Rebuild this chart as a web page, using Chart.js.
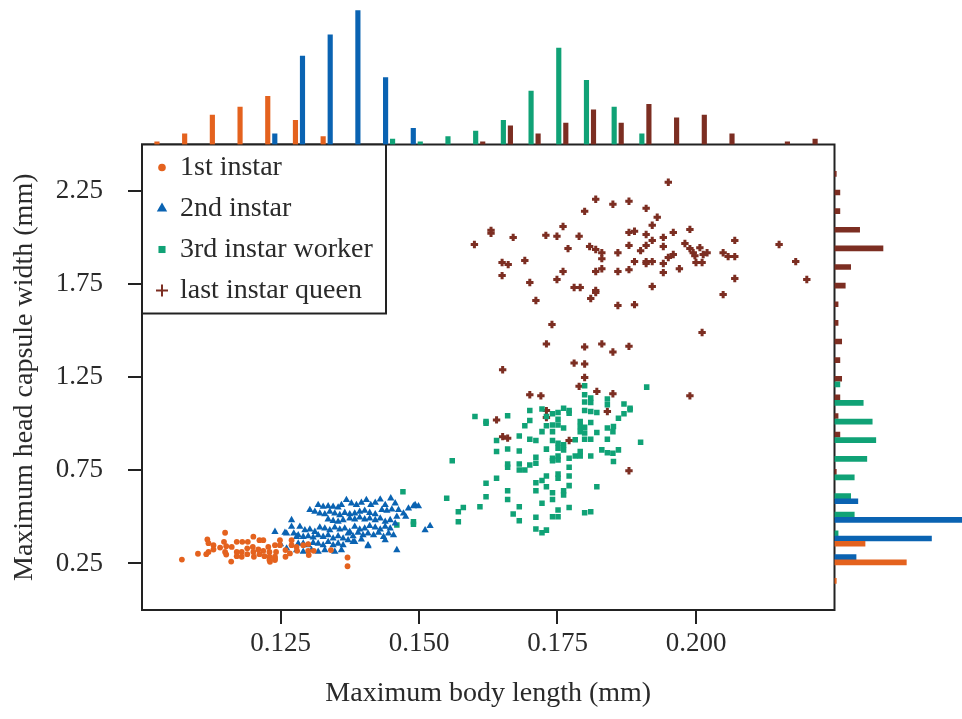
<!DOCTYPE html>
<html>
<head>
<meta charset="utf-8">
<script src="https://cdn.jsdelivr.net/npm/chart.js@4.4.1/dist/chart.umd.min.js"></script>
<style>
  html, body { margin: 0; padding: 0; background: #fff; }
  #wrap { position: relative; width: 962px; height: 719px; }
  #wrap canvas { position: absolute; left: 0; top: 0; }
</style>
</head>
<body>
<div id="wrap">
  <canvas id="scatter" width="962" height="719"></canvas>
  <canvas id="histTop" width="962" height="719"></canvas>
  <canvas id="histRight" width="962" height="719"></canvas>
</div>
<script>
const seriesNames = ['1st instar', '2nd instar', '3rd instar worker', 'last instar queen'];
const seriesColors = ['#e4621e', '#0a63b2', '#10a276', '#7c2e22'];

const xTicks = [0.125, 0.150, 0.175, 0.200];
const yTicks = [0.25, 0.75, 1.25, 1.75, 2.25];

// [body length, head capsule width] in mm
const firstInstar = [
  [0.1072,0.271],[0.1101,0.302],[0.1118,0.379],[0.1120,0.359],[0.1116,0.300],[0.1120,0.312],[0.1129,0.348],[0.1129,0.325],
  [0.1141,0.335],[0.1150,0.415],[0.1148,0.366],[0.1152,0.343],[0.1150,0.312],[0.1152,0.298],[0.1161,0.260],[0.1162,0.339],
  [0.1171,0.366],[0.1181,0.366],[0.1191,0.366],[0.1171,0.312],[0.1171,0.289],[0.1180,0.312],[0.1180,0.286],[0.1190,0.331],
  [0.1190,0.300],[0.1201,0.394],[0.1200,0.339],[0.1201,0.312],[0.1202,0.286],[0.1212,0.375],[0.1210,0.325],[0.1212,0.300],
  [0.1219,0.318],[0.1221,0.289],[0.1228,0.339],[0.1230,0.312],[0.1230,0.286],[0.1231,0.259],[0.1240,0.348],[0.1242,0.312],
  [0.1240,0.286],[0.1249,0.375],[0.1249,0.348],[0.1259,0.322],[0.1259,0.286],[0.1267,0.304],[0.1270,0.375],[0.1270,0.348],
  [0.1279,0.339],[0.1280,0.318],[0.1291,0.348],[0.1300,0.354],[0.1300,0.318],[0.1301,0.295],[0.1310,0.318],[0.1341,0.322],
  [0.1371,0.282],[0.1371,0.235],[0.1219,0.375],[0.1240,0.268],[0.1230,0.268],[0.1240,0.277]
];

const secondInstar = [
  [0.1369,0.591],[0.1378,0.573],[0.1387,0.564],[0.1396,0.576],[0.1405,0.591],[0.1413,0.564],[0.1421,0.576],[0.1430,0.594],
  [0.1439,0.564],[0.1449,0.600],[0.1457,0.573],[0.1433,0.537],[0.1442,0.533],[0.1451,0.540],[0.1463,0.537],[0.1472,0.519],
  [0.1481,0.546],[0.1490,0.558],[0.1499,0.558],[0.1476,0.501],[0.1460,0.501],[0.1318,0.564],[0.1327,0.555],[0.1336,0.558],
  [0.1345,0.555],[0.1354,0.551],[0.1360,0.564],[0.1303,0.537],[0.1312,0.528],[0.1321,0.519],[0.1330,0.515],[0.1339,0.528],
  [0.1348,0.519],[0.1357,0.510],[0.1366,0.522],[0.1375,0.515],[0.1384,0.519],[0.1393,0.528],[0.1402,0.533],[0.1411,0.522],
  [0.1421,0.515],[0.1375,0.492],[0.1384,0.487],[0.1393,0.497],[0.1402,0.487],[0.1411,0.492],[0.1421,0.483],[0.1430,0.492],
  [0.1439,0.474],[0.1448,0.483],[0.1363,0.483],[0.1354,0.474],[0.1345,0.479],[0.1336,0.487],
  [0.1270,0.483],[0.1285,0.447],[0.1294,0.429],[0.1303,0.433],[0.1312,0.420],[0.1321,0.444],[0.1330,0.438],[0.1339,0.429],
  [0.1348,0.444],[0.1357,0.433],[0.1366,0.438],[0.1375,0.420],[0.1384,0.447],[0.1393,0.433],[0.1402,0.438],[0.1411,0.451],
  [0.1421,0.444],[0.1430,0.433],[0.1439,0.447],[0.1448,0.438],[0.1457,0.465],
  [0.1282,0.402],[0.1291,0.393],[0.1300,0.397],[0.1309,0.390],[0.1318,0.402],[0.1327,0.393],[0.1336,0.402],[0.1345,0.384],
  [0.1354,0.397],[0.1363,0.384],[0.1372,0.411],[0.1381,0.397],[0.1390,0.415],[0.1399,0.402],[0.1408,0.411],[0.1418,0.402],
  [0.1427,0.415],[0.1436,0.393],[0.1445,0.411],[0.1454,0.402],
  [0.1282,0.357],[0.1291,0.357],[0.1300,0.348],[0.1309,0.361],[0.1318,0.357],[0.1327,0.348],[0.1336,0.366],[0.1345,0.348],
  [0.1354,0.357],[0.1363,0.348],[0.1372,0.375],[0.1384,0.366],[0.1396,0.379],[0.1408,0.348],[0.1439,0.375],
  [0.1279,0.322],[0.1291,0.313],[0.1306,0.322],[0.1318,0.313],[0.1330,0.322],[0.1348,0.313],[0.1360,0.322],[0.1381,0.366],
  [0.1408,0.343],[0.1460,0.322],[0.1511,0.429],[0.1520,0.451],[0.1493,0.564],
  [0.1240,0.420],[0.1258,0.415],[0.1261,0.411],[0.1270,0.447],[0.1274,0.411],[0.1279,0.393],[0.1261,0.331],[0.1250,0.354]
];

const thirdWorker = [
  [0.1911,1.197],[0.1799,1.204],[0.1799,1.156],[0.1810,1.138],[0.1810,1.114],[0.1799,1.117],[0.1840,1.133],[0.1870,1.106],
  [0.1881,1.084],[0.1700,1.071],[0.1722,1.079],[0.1741,1.054],[0.1751,1.061],[0.1761,1.084],[0.1771,1.071],[0.1771,1.057],
  [0.1799,1.071],[0.1810,1.066],[0.1821,1.061],[0.1870,1.054],[0.1881,1.075],[0.1840,1.102],[0.1601,1.039],[0.1621,1.012],
  [0.1621,1.003],[0.1660,1.043],[0.1700,1.018],[0.1730,1.039],[0.1751,1.025],[0.1751,0.994],[0.1791,1.012],[0.1810,1.007],
  [0.1860,1.030],[0.1691,0.989],[0.1722,0.958],[0.1730,0.989],[0.1741,0.994],[0.1741,0.958],[0.1761,0.977],[0.1791,0.985],
  [0.1791,0.958],[0.1799,0.982],[0.1799,0.950],[0.1821,0.953],[0.1840,0.977],[0.1850,0.958],[0.1851,0.985],[0.1640,0.910],
  [0.1681,0.935],[0.1700,0.917],[0.1711,0.910],[0.1741,0.910],[0.1751,0.896],[0.1761,0.887],[0.1761,0.860],[0.1782,0.914],
  [0.1799,0.917],[0.1810,0.917],[0.1840,0.917],[0.1900,0.901],[0.1640,0.851],[0.1660,0.865],[0.1681,0.854],[0.1730,0.864],
  [0.1751,0.869],[0.1771,0.815],[0.1782,0.827],[0.1791,0.851],[0.1791,0.827],[0.1810,0.827],[0.1830,0.860],[0.1840,0.845],
  [0.1850,0.842],[0.1860,0.860],[0.1851,0.797],[0.1560,0.802],[0.1660,0.784],[0.1660,0.767],[0.1681,0.784],[0.1681,0.752],
  [0.1691,0.752],[0.1700,0.779],[0.1711,0.820],[0.1711,0.788],[0.1741,0.815],[0.1741,0.802],[0.1751,0.827],[0.1751,0.806],
  [0.1771,0.767],[0.1640,0.707],[0.1621,0.681],[0.1711,0.684],[0.1722,0.695],[0.1730,0.720],[0.1730,0.662],[0.1751,0.731],
  [0.1751,0.707],[0.1771,0.720],[0.1771,0.668],[0.1821,0.662],[0.1471,0.635],[0.1550,0.600],[0.1621,0.608],[0.1660,0.641],
  [0.1660,0.594],[0.1711,0.641],[0.1741,0.630],[0.1761,0.641],[0.1761,0.618],[0.1722,0.573],[0.1741,0.594],[0.1580,0.551],
  [0.1571,0.528],[0.1571,0.474],[0.1610,0.555],[0.1681,0.555],[0.1670,0.515],[0.1681,0.479],[0.1711,0.498],[0.1741,0.501],
  [0.1751,0.501],[0.1751,0.537],[0.1771,0.551],[0.1799,0.522],[0.1810,0.528],[0.1711,0.435],[0.1722,0.415],[0.1730,0.429],
  [0.1490,0.461],[0.1490,0.474],[0.1460,0.456]
];

const lastQueen = [
  [0.1950,2.297],[0.1819,2.206],[0.1850,2.179],[0.1879,2.195],[0.1910,2.157],[0.1799,2.141],[0.1930,2.109],[0.1630,2.039],
  [0.1630,2.023],[0.1760,2.060],[0.1921,2.066],[0.1879,2.028],[0.1889,2.034],[0.1910,2.017],[0.1959,2.028],[0.1989,2.044],
  [0.1670,2.001],[0.1729,2.012],[0.1749,2.007],[0.1789,2.007],[0.1921,1.985],[0.1941,2.001],[0.2070,1.985],[0.1600,1.963],
  [0.1769,1.941],[0.1808,1.952],[0.1819,1.936],[0.1830,1.919],[0.1879,1.958],[0.1910,1.958],[0.1900,1.930],[0.1941,1.952],
  [0.1980,1.968],[0.1989,1.941],[0.1995,1.919],[0.2007,1.946],[0.2020,1.919],[0.1998,1.903],[0.2013,1.909],[0.2049,1.919],
  [0.2058,1.898],[0.2070,1.898],[0.2150,1.963],[0.1859,1.919],[0.1830,1.887],[0.1650,1.866],[0.1661,1.855],[0.1691,1.877],
  [0.1889,1.871],[0.1910,1.871],[0.1921,1.871],[0.1910,1.861],[0.1950,1.893],[0.1959,1.909],[0.2000,1.866],[0.2011,1.866],
  [0.1941,1.861],[0.2180,1.871],[0.1650,1.796],[0.1760,1.818],[0.1749,1.775],[0.1819,1.818],[0.1830,1.833],[0.1859,1.818],
  [0.1879,1.828],[0.1941,1.812],[0.1970,1.833],[0.2070,1.780],[0.2200,1.775],[0.1700,1.759],[0.1780,1.732],[0.1791,1.732],
  [0.1819,1.716],[0.1819,1.705],[0.1810,1.673],[0.1921,1.737],[0.2049,1.694],[0.1711,1.662],[0.1859,1.635],[0.1889,1.640],
  [0.1740,1.533],[0.2011,1.490],[0.1730,1.429],[0.1799,1.413],[0.1830,1.429],[0.1879,1.416],[0.1850,1.386],[0.1780,1.326],
  [0.1799,1.321],[0.1651,1.290],[0.1799,1.249],[0.1789,1.201],[0.1821,1.174],[0.1850,1.161],[0.1700,1.156],[0.1720,1.150],
  [0.1989,1.150],[0.1840,1.066],[0.1730,1.071],[0.1730,1.034],[0.1640,1.021],[0.1651,0.931],[0.1660,0.923],[0.1771,0.910],
  [0.1879,0.748]
];

// top marginal histogram: body length bins (lower edge, mm) and counts per group
const lengthBins = [0.1025,0.1075,0.1125,0.1175,0.1225,0.1275,0.1325,0.1375,0.1425,0.1475,0.1525,0.1575,
                    0.1625,0.1675,0.1725,0.1775,0.1825,0.1875,0.1925,0.1975,0.2025,0.2075,0.2125,0.2175];
const lengthFirst  = [1,4,11,14,18,9,3,0,0,0,0,0,0,0,0,0,0,0,0,0,0,0,0,0];
const lengthSecond = [0,0,0,0,4,33,41,50,25,6,0,0,0,0,0,0,0,0,0,0,0,0,0,0];
const lengthThird  = [0,0,0,0,0,0,0,0,2,1,3,5,9,20,36,24,14,4,0,0,0,0,0,0];
const lengthQueen  = [0,0,0,0,0,0,0,0,0,0,0,1,7,4,8,13,8,15,10,11,4,0,1,2];

// right marginal histogram: head capsule width bins (centre, mm) and counts per group
const widthBins   = [0.2,0.3,0.4,0.5,0.6,0.7,0.8,0.9,1.0,1.1,1.2,1.3,1.4,1.5,1.6,1.7,1.8,1.9,2.0,2.1,2.2,2.3];
const widthFirst  = [1,40,17,0,0,0,0,0,0,0,0,0,0,0,0,0,0,0,0,0,0,0];
const widthSecond = [0,12,54,80,13,0,0,0,0,0,0,0,0,0,0,0,0,0,0,0,0,0];
const widthThird  = [0,0,2,11,9,11,18,23,21,16,3,0,0,0,0,0,0,0,0,0,0,0];
const widthQueen  = [0,0,0,0,0,1,0,3,2,3,4,3,4,2,2,6,9,27,14,3,3,1];

Chart.defaults.font.family = '"Liberation Serif", "Times New Roman", serif';
Chart.defaults.color = '#2a2a2a';

const pointStyles = ['circle', 'triangle', 'rect', 'cross'];
const pointSizes = [2.9, 4.2, 3.9, 3.7];
const legendSizes = [3.8, 6, 5, 6];
const topSlot = [0.0002, 0.00147, 0.00273, 0.004];
const rightSlot = [-0.044, -0.016, 0.012, 0.042];

const plotFrame = {
  id: 'plotFrame',
  afterDatasetsDraw(chart) {
    const { ctx, chartArea: { left, top, right, bottom } } = chart;
    ctx.save();
    ctx.strokeStyle = '#222';
    ctx.lineWidth = 2;
    ctx.strokeRect(left, top, right - left, bottom - top);
    ctx.restore();
  }
};

const boxLegend = {
  id: 'boxLegend',
  afterDraw(chart) {
    const { ctx, chartArea: { left, top } } = chart;
    ctx.save();
    ctx.fillStyle = '#fff';
    ctx.fillRect(left, top, 244, 169);
    ctx.strokeStyle = '#222';
    ctx.lineWidth = 2;
    ctx.strokeRect(left, top, 244, 169);
    chart.data.datasets.forEach((ds, i) => {
      const y = top + 23 + i * 41;
      ctx.fillStyle = ds.backgroundColor;
      ctx.strokeStyle = ds.borderColor;
      ctx.lineWidth = i === 3 ? 2 : 0;
      Chart.helpers.drawPoint(ctx, {
        pointStyle: ds.pointStyle, radius: legendSizes[i], rotation: 0, borderWidth: i === 3 ? 2 : 0
      }, left + 20, y);
      ctx.fillStyle = '#2a2a2a';
      ctx.font = '28px "Liberation Serif"';
      ctx.textBaseline = 'middle';
      ctx.fillText(ds.label, left + 38, y);
    });
    ctx.restore();
  }
};

const toPts = arr => arr.map(([x, y]) => ({ x, y }));
const groups = [firstInstar, secondInstar, thirdWorker, lastQueen];

new Chart(document.getElementById('scatter'), {
  type: 'scatter',
  data: {
    datasets: groups.map((g, i) => ({
      label: seriesNames[i],
      data: toPts(g),
      pointStyle: pointStyles[i],
      pointRadius: pointSizes[i],
      backgroundColor: seriesColors[i],
      borderColor: seriesColors[i],
      borderWidth: i === 3 ? 3 : 0
    }))
  },
  options: {
    responsive: false,
    animation: false,
    devicePixelRatio: 1,
    layout: { padding: { top: 144.5, right: 127.5, left: 0, bottom: 0 } },
    plugins: { legend: { display: false }, tooltip: { enabled: false } },
    scales: {
      x: {
        type: 'linear', min: 0.1, max: 0.225,
        afterBuildTicks: a => { a.ticks = xTicks.map(v => ({ value: v })); },
        afterFit: a => { a.height = 109; },
        grid: { drawOnChartArea: false, tickLength: 14, lineWidth: 2, color: '#222' },
        border: { display: false },
        ticks: { padding: 4, font: { size: 27 }, callback: v => v.toFixed(3) },
        title: { display: true, text: 'Maximum body length (mm)', font: { size: 28 }, padding: { bottom: 9 } }
      },
      y: {
        type: 'linear', min: 0, max: 2.5,
        afterBuildTicks: a => { a.ticks = yTicks.map(v => ({ value: v })); },
        afterFit: a => { a.width = 142; },
        grid: { drawOnChartArea: false, tickLength: 14, lineWidth: 2, color: '#222' },
        border: { display: false },
        ticks: { padding: 25, font: { size: 27 }, callback: v => v.toFixed(2) },
        title: { display: true, text: 'Maximum head capsule width (mm)', font: { size: 28 }, padding: { top: 8 } }
      }
    }
  },
  plugins: [plotFrame, boxLegend]
});

const lengthCounts = [lengthFirst, lengthSecond, lengthThird, lengthQueen];
new Chart(document.getElementById('histTop'), {
  type: 'bar',
  data: {
    datasets: lengthCounts.map((counts, g) => ({
      data: lengthBins.map((b, i) => ({ x: b + topSlot[g], y: counts[i] })).filter(p => p.y > 0),
      backgroundColor: seriesColors[g],
      grouped: false,
      barPercentage: 1,
      categoryPercentage: 1,
      maxBarThickness: 4.5
    }))
  },
  options: {
    responsive: false,
    animation: false,
    devicePixelRatio: 1,
    layout: { padding: { left: 142, right: 127.5, top: 0, bottom: 574.5 } },
    plugins: { legend: { display: false }, tooltip: { enabled: false } },
    scales: {
      x: { type: 'linear', display: false, offset: false, min: 0.1, max: 0.225 },
      y: { type: 'linear', display: false, min: 0, max: 54 }
    }
  }
});

const widthCounts = [widthFirst, widthSecond, widthThird, widthQueen];
new Chart(document.getElementById('histRight'), {
  type: 'bar',
  data: {
    datasets: widthCounts.map((counts, g) => ({
      data: widthBins.map((b, i) => ({ x: counts[i], y: b + rightSlot[g] })).filter(p => p.x > 0),
      backgroundColor: seriesColors[g],
      grouped: false,
      barPercentage: 1,
      categoryPercentage: 1,
      maxBarThickness: 5
    }))
  },
  options: {
    indexAxis: 'y',
    responsive: false,
    animation: false,
    devicePixelRatio: 1,
    layout: { padding: { left: 834.5, right: 0, top: 144.5, bottom: 109 } },
    plugins: { legend: { display: false }, tooltip: { enabled: false } },
    scales: {
      y: { type: 'linear', display: false, offset: false, min: 0, max: 2.5 },
      x: { type: 'linear', display: false, min: 0, max: 71 }
    }
  }
});
</script>
</body>
</html>
